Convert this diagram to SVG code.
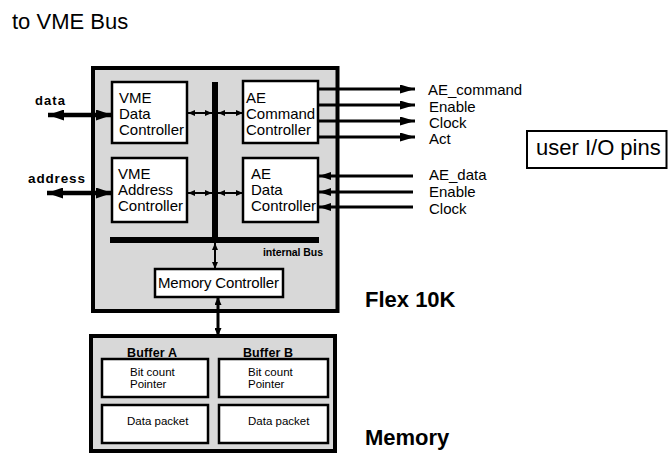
<svg xmlns="http://www.w3.org/2000/svg" width="668" height="453" viewBox="0 0 668 453">
<style>
  text { font-family: "Liberation Sans", Arial, Helvetica, sans-serif; fill: #000; }
  .t { font-size: 15px; }
  .big { font-size: 22px; }
  .bold { font-weight: bold; }
  .small { font-size: 11.5px; }
  .halftone { fill: #d8d8d8; stroke: #000; stroke-width: 4; }
  .box { fill: #fff; stroke: #000; stroke-width: 2.5; }
  .bus { fill: #000; }
  .w { stroke: #000; fill: none; }
</style>
<defs>
  <marker id="arr" markerUnits="userSpaceOnUse" markerWidth="15" markerHeight="9" refX="15" refY="4.5" orient="auto-start-reverse">
    <path d="M0,0 L15,4.5 L0,9 z" fill="#000"/>
  </marker>
  <marker id="arrIn" markerUnits="userSpaceOnUse" markerWidth="12" markerHeight="8" refX="12" refY="4" orient="auto-start-reverse">
    <path d="M0,0 L12,4 L0,8 z" fill="#000"/>
  </marker>
  <marker id="dbl" markerUnits="userSpaceOnUse" markerWidth="16" markerHeight="11" refX="16" refY="5.5" orient="auto-start-reverse">
    <path d="M0,0 L16,5.5 L0,11 z" fill="#000"/>
  </marker>
  <marker id="sm" markerUnits="userSpaceOnUse" markerWidth="7" markerHeight="6" refX="7" refY="3" orient="auto-start-reverse">
    <path d="M0,0 L7,3 L0,6 z" fill="#000"/>
  </marker>
  <marker id="md" markerUnits="userSpaceOnUse" markerWidth="8" markerHeight="7" refX="8" refY="3.5" orient="auto-start-reverse">
    <path d="M0,0 L8,3.5 L0,7 z" fill="#000"/>
  </marker>
</defs>

<rect width="668" height="453" fill="#fff"/>

<text id="title" class="big" x="12" y="29">to VME Bus</text>

<g id="flex10k">
  <rect class="halftone" x="93" y="68" width="244.5" height="243"/>
  <text class="big bold" x="365" y="307">Flex 10K</text>
</g>

<g id="memory">
  <rect class="halftone" x="91" y="336" width="244" height="115"/>
  <text class="big bold" x="365" y="445">Memory</text>
</g>

<g id="internal-bus">
  <rect class="bus" x="212" y="82" width="6" height="158"/>
  <rect class="bus" x="110" y="237" width="209" height="6"/>
  <text class="bold" x="263" y="256" font-size="10.5" textLength="60">internal Bus</text>
</g>

<g id="vme-data-controller">
  <rect class="box" x="112" y="82" width="75" height="61"/>
  <text class="t" x="119" y="103">VME</text>
  <text class="t" x="119" y="119">Data</text>
  <text class="t" x="119" y="135">Controller</text>
</g>

<g id="vme-address-controller">
  <rect class="box" x="112" y="158" width="75" height="64"/>
  <text class="t" x="118" y="179">VME</text>
  <text class="t" x="118" y="195">Address</text>
  <text class="t" x="118" y="211">Controller</text>
</g>

<g id="ae-command-controller">
  <rect class="box" x="243" y="81" width="75" height="62"/>
  <text class="t" x="246" y="103">AE</text>
  <text class="t" x="246" y="119">Command</text>
  <text class="t" x="246" y="135">Controller</text>
</g>

<g id="ae-data-controller">
  <rect class="box" x="243" y="158" width="75" height="64"/>
  <text class="t" x="251" y="179">AE</text>
  <text class="t" x="251" y="195">Data</text>
  <text class="t" x="251" y="211">Controller</text>
</g>

<g id="memory-controller">
  <rect class="box" x="155" y="269" width="128" height="28"/>
  <text class="t" x="158" y="288" textLength="121">Memory Controller</text>
</g>

<g id="buffer-a">
  <text class="bold" x="127" y="357" font-size="12.5" textLength="50">Buffer A</text>
  <rect class="box" x="102" y="359" width="106" height="38"/>
  <text class="small" x="130" y="376">Bit count</text>
  <text class="small" x="130" y="388">Pointer</text>
  <rect class="box" x="102" y="405" width="106" height="38"/>
  <text class="small" x="127" y="425">Data packet</text>
</g>

<g id="buffer-b">
  <text class="bold" x="243" y="357" font-size="12.5" textLength="50">Buffer B</text>
  <rect class="box" x="219" y="359" width="109" height="38"/>
  <text class="small" x="248" y="376">Bit count</text>
  <text class="small" x="248" y="388">Pointer</text>
  <rect class="box" x="219" y="405" width="109" height="38"/>
  <text class="small" x="248" y="425">Data packet</text>
</g>

<g id="user-io-pins">
  <rect x="527" y="131" width="139.5" height="37" fill="#fff" stroke="#000" stroke-width="2"/>
  <text class="big" x="536" y="155">user I/O pins</text>
</g>

<g id="labels">
  <text class="bold" x="35" y="105" font-size="13" textLength="30">data</text>
  <text class="bold" x="28" y="183" font-size="13.5" textLength="57">address</text>
  <text class="t" x="428" y="95">AE_command</text>
  <text class="t" x="429" y="112">Enable</text>
  <text class="t" x="429" y="128">Clock</text>
  <text class="t" x="429" y="144">Act</text>
  <text class="t" x="429" y="180">AE_data</text>
  <text class="t" x="429" y="197">Enable</text>
  <text class="t" x="429" y="214">Clock</text>
</g>

<g id="connectors">
  <line class="w" x1="48" y1="115" x2="112" y2="115" stroke-width="4.5" marker-start="url(#dbl)" marker-end="url(#dbl)"/>
  <line class="w" x1="47" y1="193" x2="112" y2="193" stroke-width="4.5" marker-start="url(#dbl)" marker-end="url(#dbl)"/>

  <line class="w" x1="188" y1="113" x2="212" y2="113" stroke-width="2" marker-start="url(#sm)" marker-end="url(#sm)"/>
  <line class="w" x1="218" y1="113" x2="243" y2="113" stroke-width="2" marker-start="url(#sm)" marker-end="url(#sm)"/>
  <line class="w" x1="188" y1="193" x2="212" y2="193" stroke-width="2" marker-start="url(#sm)" marker-end="url(#sm)"/>
  <line class="w" x1="218" y1="193" x2="243" y2="193" stroke-width="2" marker-start="url(#sm)" marker-end="url(#sm)"/>

  <line class="w" x1="215" y1="243" x2="215" y2="269" stroke-width="2" marker-start="url(#sm)" marker-end="url(#sm)"/>
  <line class="w" x1="218" y1="297" x2="218" y2="336" stroke-width="3" marker-start="url(#md)" marker-end="url(#md)"/>

  <line class="w" x1="318" y1="89" x2="415" y2="89" stroke-width="3" marker-end="url(#arr)"/>
  <line class="w" x1="318" y1="105" x2="415" y2="105" stroke-width="3" marker-end="url(#arr)"/>
  <line class="w" x1="318" y1="121" x2="415" y2="121" stroke-width="3" marker-end="url(#arr)"/>
  <line class="w" x1="318" y1="137" x2="415" y2="137" stroke-width="3" marker-end="url(#arr)"/>

  <line class="w" x1="413" y1="176" x2="319" y2="176" stroke-width="3" marker-end="url(#arrIn)"/>
  <line class="w" x1="413" y1="192" x2="319" y2="192" stroke-width="3" marker-end="url(#arrIn)"/>
  <line class="w" x1="413" y1="207" x2="319" y2="207" stroke-width="3" marker-end="url(#arrIn)"/>
</g>
</svg>
